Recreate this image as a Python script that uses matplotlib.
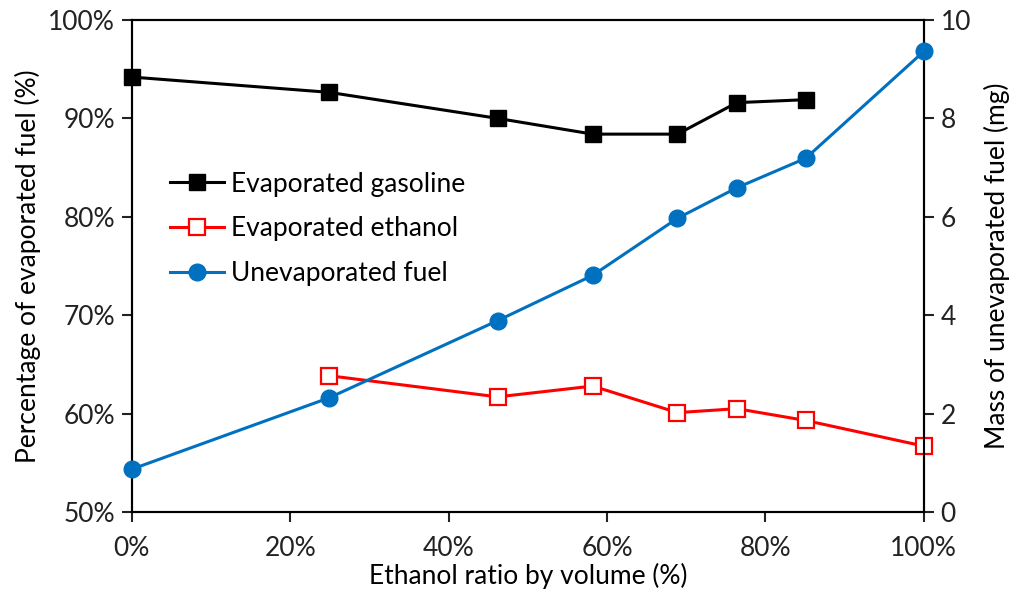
import matplotlib.pyplot as plt
from matplotlib.ticker import FuncFormatter

plt.rcParams['font.family'] = ['Lato', 'DejaVu Sans']

# ethanol ratio by volume (%)
ratio = [0, 24.9, 46.2, 58.2, 68.9, 76.4, 85.1, 100]
gasoline = [94.2, 92.65, 90.0, 88.4, 88.4, 91.6, 91.9]
ethanol = [63.85, 61.7, 62.8, 60.1, 60.5, 59.3, 56.7]
unevap = [0.87, 2.32, 3.89, 4.81, 5.97, 6.59, 7.19, 9.36]

blue = '#0070C0'
red = '#FF0000'
fs = 19

fig = plt.figure(figsize=(10.14, 6.02), dpi=100)
ax = fig.add_axes([0.130, 0.1495, 0.781, 0.8173])
ax2 = ax.twinx()

l1, = ax.plot(ratio[:7], gasoline, color='black', lw=2.2, marker='s', ms=12,
              label='Evaporated gasoline', clip_on=False, zorder=3)
l2, = ax.plot(ratio[1:], ethanol, color=red, lw=2.2, marker='s', ms=12,
              mfc='white', mec=red, mew=1.6, label='Evaporated ethanol',
              clip_on=False, zorder=3)
l3, = ax2.plot(ratio, unevap, color=blue, lw=2.2, marker='o', ms=12,
               label='Unevaporated fuel', clip_on=False, zorder=3)

ax.set_xlim(0, 100)
ax.set_ylim(50, 100)
ax2.set_ylim(0, 10)
ax.set_xticks(range(0, 101, 20))
ax.set_yticks(range(50, 101, 10))
ax2.set_yticks(range(0, 11, 2))
pct = FuncFormatter(lambda v, p: '%d%%' % v)
ax.xaxis.set_major_formatter(pct)
ax.yaxis.set_major_formatter(pct)

for a in (ax, ax2):
    for s in a.spines.values():
        s.set_linewidth(1.5)
    a.tick_params(direction='out', length=7, width=1.5, labelsize=fs, colors='#222222')
    a.tick_params(axis='y', pad=5)
ax.tick_params(axis='x', pad=10)

ax.set_xlabel('Ethanol ratio by volume (%)', fontsize=fs, labelpad=2)
ax.set_ylabel('Percentage of evaporated fuel (%)', fontsize=fs, labelpad=5)
ax2.set_ylabel('Mass of unevaporated fuel (mg)', fontsize=fs, labelpad=9)

ax2.legend(handles=[l1, l2, l3], loc='upper left', bbox_to_anchor=(0.018, 0.74),
           frameon=False, fontsize=fs, handlelength=2.05, handletextpad=0.25,
           labelspacing=0.75)

fig.savefig('out.png', dpi=100)
